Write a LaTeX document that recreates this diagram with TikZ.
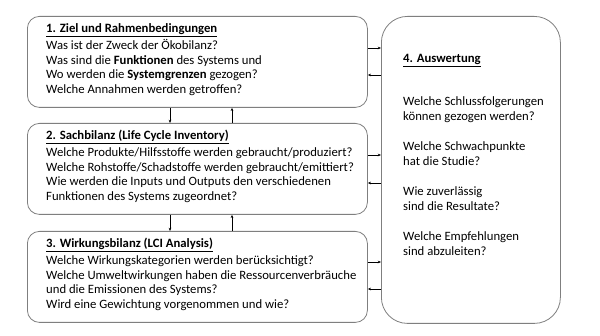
\documentclass[tikz,border=0pt]{standalone}
\usepackage{fontspec}
\setmainfont{Carlito}
\usetikzlibrary{arrows.meta}
\definecolor{boxgray}{HTML}{7F7F7F}
\begin{document}
\begin{tikzpicture}[x=1pt,y=-1pt,
  box/.style={draw=boxgray, line width=0.8pt, rounded corners=12pt, inner sep=0pt},
  bigbox/.style={box, rounded corners=26pt},
  arr/.style={-{Stealth[length=3.2pt,width=2.6pt]}, line width=0.6pt, black},
  txt/.style={anchor=base west, inner sep=0pt, font=\fontsize{12.7}{14.7}\selectfont},
  ttl/.style={txt, font=\fontsize{12.7}{14.7}\selectfont\bfseries}
]
\useasboundingbox (0,0) rectangle (600,336);
\fill[white] (0,0) rectangle (600,336);
% boxes
\node[box, minimum width=340pt, minimum height=91pt, anchor=north west] (b1) at (27,16) {};
\node[box, minimum width=340pt, minimum height=91pt, anchor=north west] (b2) at (27,123) {};
\node[box, minimum width=340pt, minimum height=91pt, anchor=north west] (b3) at (27,231) {};
\node[bigbox, minimum width=179pt, minimum height=307pt, anchor=north west] (b4) at (381,16) {};
% box 1 text
\node[ttl] (t1) at (46,33) {\underline{1. Ziel und Rahmenbedingungen}};
\foreach \t [count=\i from 0] in {Was ist der Zweck der Ökobilanz?,
  Was sind die \textbf{Funktionen} des Systems und,
  Wo werden die \textbf{Systemgrenzen} gezogen?,
  Welche Annahmen werden getroffen?}
  \node[txt] (l1-\i) at (46,49.5+14.6*\i) {\t};
% box 2 text
\node[ttl] (t2) at (46,140) {\underline{2. Sachbilanz (Life Cycle Inventory)}};
\foreach \t [count=\i from 0] in {Welche Produkte/Hilfsstoffe werden gebraucht/produziert?,
  Welche Rohstoffe/Schadstoffe werden gebraucht/emittiert?,
  Wie werden die Inputs und Outputs den verschiedenen,
  Funktionen des Systems zugeordnet?}
  \node[txt] (l2-\i) at (46,156.5+14.6*\i) {\t};
% box 3 text
\node[ttl] (t3) at (46,248) {\underline{3. Wirkungsbilanz (LCI Analysis)}};
\foreach \t [count=\i from 0] in {Welche Wirkungskategorien werden berücksichtigt?,
  Welche Umweltwirkungen haben die Ressourcenverbräuche,
  und die Emissionen des Systems?,
  Wird eine Gewichtung vorgenommen und wie?}
  \node[txt] (l3-\i) at (46,264.5+14.6*\i) {\t};
% box 4 text
\node[ttl] (t4) at (403,63) {\underline{4. Auswertung}};
\node[txt] (l4-0) at (403,106) {Welche Schlussfolgerungen};
\node[txt] (l4-1) at (403,120.5) {können gezogen werden?};
\node[txt] (l4-2) at (403,151) {Welche Schwachpunkte};
\node[txt] (l4-3) at (403,165.5) {hat die Studie?};
\node[txt] (l4-4) at (403,196) {Wie zuverlässig};
\node[txt] (l4-5) at (403,210.5) {sind die Resultate?};
\node[txt] (l4-6) at (403,241) {Welche Empfehlungen};
\node[txt] (l4-7) at (403,255.5) {sind abzuleiten?};
% horizontal connectors
\draw[arr] (b1.east |- 0,48) -- (b4.west |- 0,48);
\draw[arr] (b4.west |- 0,75) -- (b1.east |- 0,75);
\draw[arr] (b2.east |- 0,155) -- (b4.west |- 0,155);
\draw[arr] (b4.west |- 0,183) -- (b2.east |- 0,183);
\draw[arr] (b3.east |- 0,262) -- (b4.west |- 0,262);
\draw[arr] (b4.west |- 0,289) -- (b3.east |- 0,289);
% vertical connectors
\draw[arr] (b1.south -| 170,0) -- (b2.north -| 170,0);
\draw[arr] (b2.north -| 232,0) -- (b1.south -| 232,0);
\draw[arr] (b2.south -| 170,0) -- (b3.north -| 170,0);
\draw[arr] (b3.north -| 232,0) -- (b2.south -| 232,0);
\end{tikzpicture}
\end{document}
